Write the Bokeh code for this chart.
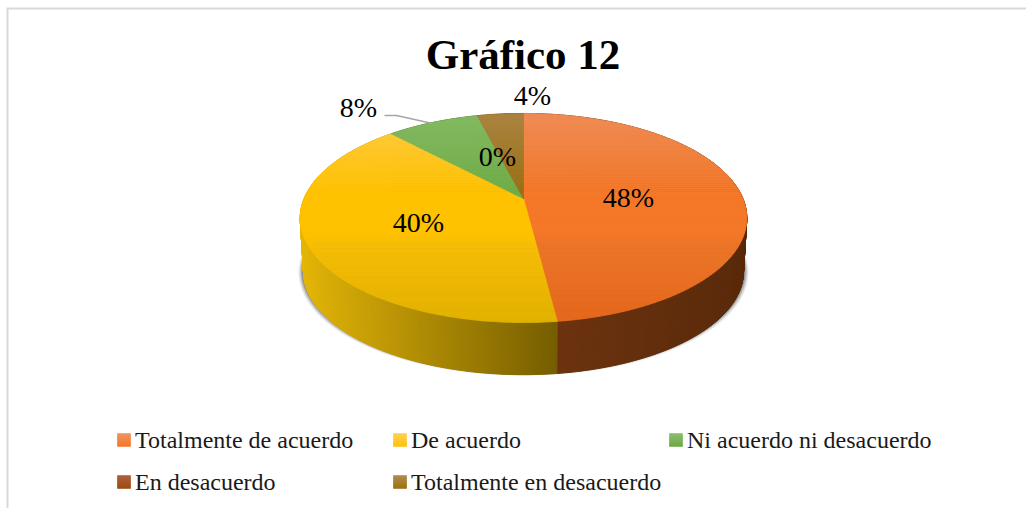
from bokeh.plotting import figure
from bokeh.models import Range1d
from bokeh.core.properties import value
from bokeh.embed import file_html
from bokeh.resources import INLINE
import numpy as np

title_text = "Gráfico 12"
categories = ["Totalmente de acuerdo", "De acuerdo", "Ni acuerdo ni desacuerdo", "En desacuerdo", "Totalmente en desacuerdo"]
percent = [48, 40, 8, 0, 4]
pct_labels = ["48%", "40%", "8%", "0%", "4%"]
label_x = [628, 418, 358, 497, 532]
label_y = [197, 222, 107, 156, 95]

# colours: (upper edge, middle, lower edge) of the top face; side colours (left, right)
top_cols = [
    [(240, 140, 85), (244, 120, 40), (228, 104, 28)],
    [(255, 203, 70), (255, 194, 0), (226, 178, 0)],
    [(132, 186, 98), (112, 173, 71), (95, 160, 50)],
    [(160, 75, 30), (158, 72, 14), (130, 60, 10)],
    [(170, 132, 66), (155, 112, 20), (150, 105, 0)],
]
side_cols = [
    [(112, 52, 16), (90, 42, 10)],
    [(228, 182, 8), (118, 94, 0)],
    [(90, 130, 50), (70, 110, 40)],
    [(100, 45, 10), (90, 40, 10)],
    [(120, 90, 10), (110, 80, 5)],
]
legend_cols = [
    [(240, 140, 85), (240, 112, 30)],
    [(255, 205, 70), (255, 190, 0)],
    [(132, 186, 98), (100, 165, 60)],
    [(170, 85, 50), (150, 65, 5)],
    [(170, 132, 66), (150, 105, 0)],
]
legend_x = [117, 393, 669, 117, 393]
legend_y = [439.5, 439.5, 439.5, 481.5, 481.5]

# perspective pie
AX, AY = 523.0, 198.0
A, B, K = 219.4, 100.9, 0.1866
DEPTH, SHRINK = 54.0, 0.985


def proj(theta):
    u, v = np.sin(theta), -np.cos(theta)
    d = 1 - K * v
    return A * u / d, B * v / d


def hex_of(c):
    return "#%02x%02x%02x" % tuple(int(round(x)) for x in c)


def mix(a, b, t):
    return tuple(a[i] + (b[i] - a[i]) * t for i in range(3))


def clip_band(xs, ys, y0, y1):
    def clip(pts, keep, cross):
        out = []
        for i in range(len(pts)):
            p, q = pts[i], pts[(i + 1) % len(pts)]
            if keep(p):
                out.append(p)
            if keep(p) != keep(q):
                out.append(cross(p, q))
        return out

    def at(yc):
        return lambda p, q: (p[0] + (q[0] - p[0]) * (yc - p[1]) / (q[1] - p[1]), yc)

    pts = list(zip(xs, ys))
    pts = clip(pts, lambda p: p[1] >= y0, at(y0))
    if pts:
        pts = clip(pts, lambda p: p[1] <= y1, at(y1))
    return pts


p = figure(width=1026, height=508, x_range=Range1d(0, 1026), y_range=Range1d(508, 0),
           output_backend="svg", toolbar_location=None, min_border=0,
           background_fill_color="white", border_fill_color="white")
p.axis.visible = False
p.grid.visible = False
p.outline_line_color = None

# chart frame
p.segment([7, 6], [508, 8], [7, 1026], [8, 8], line_color="#d9d9d9", line_width=2)

# shadow below the pie
for grow, alpha in zip([5, 4, 3, 2, 1, 0], [0.08, 0.12, 0.18, 0.24, 0.30, 0.40]):
    th = np.linspace(0, 2 * np.pi, 240)
    X, Y = proj(th)
    p.patch(AX + X * (SHRINK + grow / 220), AY + DEPTH - 3 + Y * SHRINK + grow * np.sign(Y) * 0.6 + 1,
            fill_color="#303030", fill_alpha=alpha, line_color=None)

# slice angles from the values
edges = np.cumsum([0] + percent) / 100 * 2 * np.pi

# side wall
xs, ys, cs = [], [], []
for i in range(len(percent)):
    if percent[i] == 0:
        continue
    a0, a1 = edges[i], edges[i + 1]
    n = max(2, int((a1 - a0) / 0.01))
    t = np.linspace(a0, a1, n + 1)
    X, Y = proj(t)
    xl = (AX + X * SHRINK)
    x_min, x_max = xl.min(), xl.max()
    for j in range(n):
        xs.append([AX + X[j], AX + X[j + 1], AX + X[j + 1] * SHRINK, AX + X[j] * SHRINK])
        ys.append([AY + Y[j], AY + Y[j + 1], AY + DEPTH + Y[j + 1] * SHRINK, AY + DEPTH + Y[j] * SHRINK])
        f = (xl[j] - x_min) / max(x_max - x_min, 1)
        cs.append(hex_of(mix(side_cols[i][0], side_cols[i][1], f)))
p.patches(xs, ys, fill_color=cs, line_color=cs, line_width=1)

# top face, cut into thin horizontal bands for the vertical shading
xs, ys, cs = [], [], []
Y_TOP, Y_BOT = AY - B / (1 + K), AY + B / (1 - K)
bands = np.linspace(Y_TOP, Y_BOT, 105)
for i in range(len(percent)):
    if percent[i] == 0:
        continue
    t = np.linspace(edges[i], edges[i + 1], 160)
    X, Y = proj(t)
    wx = np.r_[AX, AX + X]
    wy = np.r_[AY, AY + Y]
    for b0, b1 in zip(bands[:-1], bands[1:]):
        pts = clip_band(wx, wy, b0, b1)
        if len(pts) < 3:
            continue
        f = ((b0 + b1) / 2 - Y_TOP) / (Y_BOT - Y_TOP)
        if f < 0.4:
            c = mix(top_cols[i][0], top_cols[i][1], f / 0.4)
        elif f < 0.55:
            c = top_cols[i][1]
        else:
            c = mix(top_cols[i][1], top_cols[i][2], (f - 0.55) / 0.45)
        xs.append([q[0] for q in pts])
        ys.append([q[1] for q in pts])
        cs.append(hex_of(c))
p.patches(xs, ys, fill_color=cs, line_color=cs, line_width=0.8)

# leader line of the 8% label
p.line([384, 396, 432], [115, 115, 123], line_color="#a6a6a6", line_width=1.3)

serif = value("Liberation Serif")
p.text(label_x, label_y, text=pct_labels, text_font=serif, text_font_size="28px",
       text_color="#000000", text_align="center", text_baseline="middle")
p.text([522.5], [54], text=[title_text], text_font=serif, text_font_size="43px", text_font_style="bold",
       text_color="#000000", text_align="center", text_baseline="middle")

# legend
for i, name in enumerate(categories):
    x0, yc = legend_x[i], legend_y[i]
    n = 13
    tops = np.linspace(yc - 6.5, yc + 6.5, n + 1)
    fills = [hex_of(mix(legend_cols[i][0], legend_cols[i][1], k / (n - 1))) for k in range(n)]
    p.quad(left=x0, right=x0 + 13, top=tops[:-1], bottom=tops[1:], fill_color=fills, line_color=fills, line_width=0.5)
    p.text([x0 + 17.5], [yc - 0.5], text=[name], text_font=serif, text_font_size="24px",
           text_color="#1a1a1a", text_align="left", text_baseline="middle")

open("out.html", "w").write(file_html(p, INLINE))
